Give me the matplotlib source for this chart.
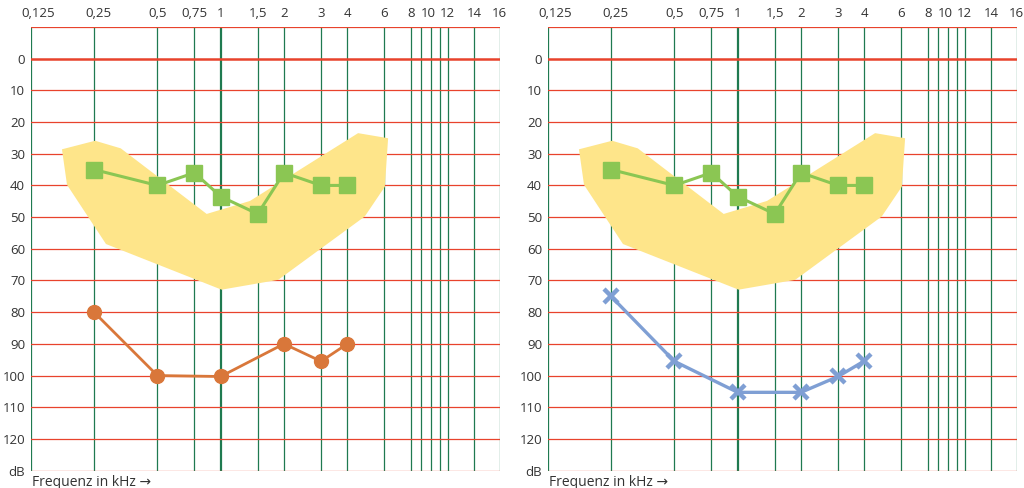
import matplotlib
matplotlib.use("Agg")
import matplotlib.pyplot as plt
from matplotlib.transforms import ScaledTranslation

plt.rcParams['font.family'] = ['Open Sans', 'DejaVu Sans']

# ---- data ----
grid_freqs = [0.125, 0.25, 0.5, 0.75, 1, 1.5, 2, 3, 4, 6, 8, 9, 10, 11, 12, 16, 21.2]
tick_freqs = [0.125, 0.25, 0.5, 0.75, 1, 1.5, 2, 3, 4, 6, 8, 10, 12, 16, 21.2]
tick_labels = ["0,125", "0,25", "0,5", "0,75", "1", "1,5", "2", "3", "4", "6", "8", "10", "12", "14", "16"]
db_levels = [-10, 0, 10, 20, 30, 40, 50, 60, 70, 80, 90, 100, 110, 120, 130]
db_labels = ["", "0", "10", "20", "30", "40", "50", "60", "70", "80", "90", "100", "110", "120", "dB"]

# speech banana (outline, frequency kHz / dB)
band_freq = [0.176, 0.253, 0.335, 0.858, 1.378, 4.50, 6.25, 6.03, 4.84, 1.877, 1.01, 0.285, 0.186]
band_db = [28.6, 25.9, 28.3, 49.0, 44.9, 23.5, 25.1, 40.4, 49.8, 69.8, 72.9, 58.5, 39.8]

# green squares (both panels)
green_freq = [0.25, 0.5, 0.75, 1, 1.5, 2, 3, 4]
green_db = [35, 40, 36, 43.5, 49, 36, 40, 40]

# left ear (orange circles)
orange_freq = [0.25, 0.5, 1, 2, 3, 4]
orange_db = [80, 100, 100.3, 90, 95.5, 90]

# right ear (blue crosses)
blue_freq = [0.25, 0.5, 1, 2, 3, 4]
blue_db = [75, 95.5, 105.3, 105.3, 100.3, 95.4]

fig = plt.figure(figsize=(10.24, 4.88), dpi=100)
W, H = 1024, 488
label_shift_px = {"0,125": 7, "0,25": 4, "10": -3}

def make_axes(x0):
    left, right, top, bottom = x0, x0 + 469, 27, 470.6
    ax = fig.add_axes([left / W, 1 - bottom / H, (right - left) / W, (bottom - top) / H])
    ax.set_xscale('log', base=2)
    ax.set_xlim(0.125, 21.2)
    ax.set_ylim(130, -10)
    for s in ax.spines.values():
        s.set_visible(False)
    ax.minorticks_off()
    # vertical grid
    for f in grid_freqs:
        lw = 1.6 if f == 1 else 0.9
        ax.axvline(f, color='#1f7a50', lw=lw, zorder=1)
    # horizontal grid
    for d in db_levels:
        lw = 1.8 if d == 0 else 0.9
        ax.axhline(d, color='#e8432c', lw=lw, zorder=1)
    ax.set_xticks(tick_freqs)
    ax.set_xticklabels(tick_labels)
    ax.xaxis.tick_top()
    ax.set_yticks(db_levels)
    ax.set_yticklabels(db_labels)
    ax.tick_params(axis='both', length=0, labelsize=9.5, colors='#333333', pad=4)
    ax.tick_params(axis='x', pad=5)
    for lab in ax.get_xticklabels():
        dx = label_shift_px.get(lab.get_text(), 0)
        if dx:
            lab.set_transform(lab.get_transform() + ScaledTranslation(dx / 100, 0, fig.dpi_scale_trans))
    ax.fill(band_freq, band_db, color='#fee58a', lw=0, zorder=2)
    ax.plot(green_freq, green_db, color='#8bc653', lw=2.2, marker='s', ms=11.5,
            mfc='#8bc653', mec='#8bc653', zorder=4)
    fig.text(left / W + 0.001, 1 - 482 / H, "Frequenz in kHz \u2192", fontsize=10,
             color='#333333', va='center', ha='left')
    return ax

ax1 = make_axes(30.7)
ax1.plot(orange_freq, orange_db, color='#d9773a', lw=2.0, marker='o', ms=10,
         mfc='#d9773a', mec='#d9773a', zorder=5)

ax2 = make_axes(547.7)
ax2.plot(blue_freq, blue_db, color='#7f9fd4', lw=2.4, marker='x', ms=10.5, mew=3.2,
         mec='#7f9fd4', zorder=5)

fig.savefig("out.png", dpi=100)
